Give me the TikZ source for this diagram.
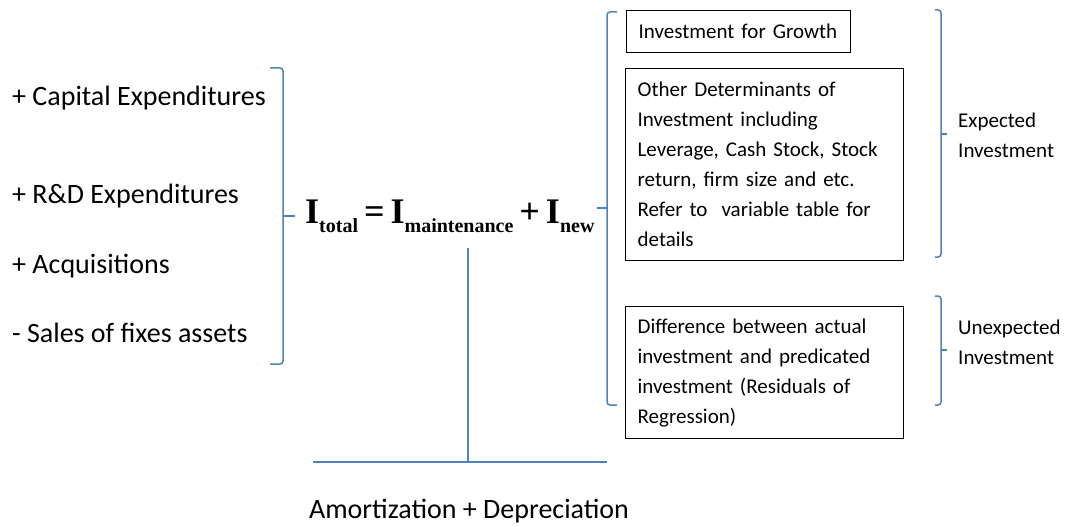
\documentclass[tikz,border=0pt]{standalone}
\usepackage{fontspec}
\setmainfont{Carlito}
\newfontfamily\tnr{Liberation Serif}
\definecolor{bracecol}{RGB}{79,129,189}
\tikzset{
  item/.style={anchor=base west, inner sep=0pt, font=\fontsize{28}{30}\selectfont},
  boxnode/.style={draw=black, line width=1.3pt, anchor=north west, align=left, inner xsep=12pt, inner ysep=0pt, font=\fontsize{21}{30}\selectfont},
  lbl/.style={anchor=west, align=left, inner sep=0pt, font=\fontsize{21}{30}\selectfont},
  bracketline/.style={draw=bracecol, line width=1.5pt, rounded corners=3pt},
  blueline/.style={draw=bracecol, line width=1.5pt}
}
\newcommand{\subtx}[1]{\raisebox{-9pt}{\fontsize{20}{20}\selectfont #1}}
\begin{document}
\begin{tikzpicture}[x=1pt,y=-1pt]
\useasboundingbox (0,0) rectangle (1068,527);
% left items
\node[item] (capex) at (12,105) {+ Capital Expenditures};
\node[item] (rd) at (12,203) {+ R\&D Expenditures};
\node[item] (acq) at (12,273) {+ Acquisitions};
\node[item] (sales) at (12,342) {- Sales of fixes assets};
% left brace
\coordinate (lbT) at (270,68);
\coordinate (lbB) at (270,364);
\coordinate (lbM) at (283,216);
\coordinate (lbTip) at (295,216);
\draw[bracketline] (lbT) -- (283,68) -- (283,364) -- (lbB);
\draw[blueline] (lbM) -- (lbTip);
% equation
\node[anchor=base west, inner sep=0pt, font=\tnr\bfseries\fontsize{36}{36}\selectfont] (eq) at (305,223)
  {I\subtx{total}\hspace{6pt}=\hspace{6pt}I\subtx{maintenance}\hspace{6pt}+\hspace{6pt}I\subtx{new}};
% middle brace
\coordinate (mbT) at (617,12);
\coordinate (mbB) at (617,405);
\coordinate (mbM) at (607,208);
\coordinate (mbTip) at (597,208);
\draw[bracketline] (mbT) -- (607,12) -- (607,405) -- (mbB);
\draw[blueline] (mbM) -- (mbTip);
% boxes
\node[boxnode, minimum width=224pt, minimum height=42pt, text width=200pt] (b1) at (626,10) {Investment for Growth};
\node[boxnode, minimum width=278pt, minimum height=192pt, text width=254pt] (b2) at (625,68)
  {Other Determinants of\\Investment including\\Leverage, Cash Stock, Stock\\return, firm size and etc.\\Refer to~ variable table for\\details};
\node[boxnode, minimum width=278pt, minimum height=132pt, text width=254pt] (b3) at (625,306)
  {Difference between actual\\investment and predicated\\investment (Residuals of\\Regression)};
% right braces
\coordinate (ebT) at (935,10);
\coordinate (ebB) at (935,257);
\coordinate (ebM) at (941,134);
\coordinate (ebTip) at (947,134);
\draw[bracketline] (ebT) -- (941,10) -- (941,257) -- (ebB);
\draw[blueline] (ebM) -- (ebTip);
\coordinate (ubT) at (935,296);
\coordinate (ubB) at (935,405);
\coordinate (ubM) at (941,350);
\coordinate (ubTip) at (947,350);
\draw[bracketline] (ubT) -- (941,296) -- (941,405) -- (ubB);
\draw[blueline] (ubM) -- (ubTip);
\node[lbl] (exp) at (958,135) {Expected\\Investment};
\node[lbl] (unexp) at (958,342) {Unexpected\\Investment};
% maintenance line
\coordinate (vTop) at (468,248);
\coordinate (vBot) at (468,462);
\coordinate (hL) at (313,462);
\coordinate (hR) at (607,462);
\draw[blueline] (vTop) -- (vBot);
\draw[blueline] (hL) -- (hR);
\node[anchor=base, inner sep=0pt, font=\fontsize{28}{30}\selectfont] (amort) at (469,518) {Amortization + Depreciation};
\end{tikzpicture}
\end{document}
